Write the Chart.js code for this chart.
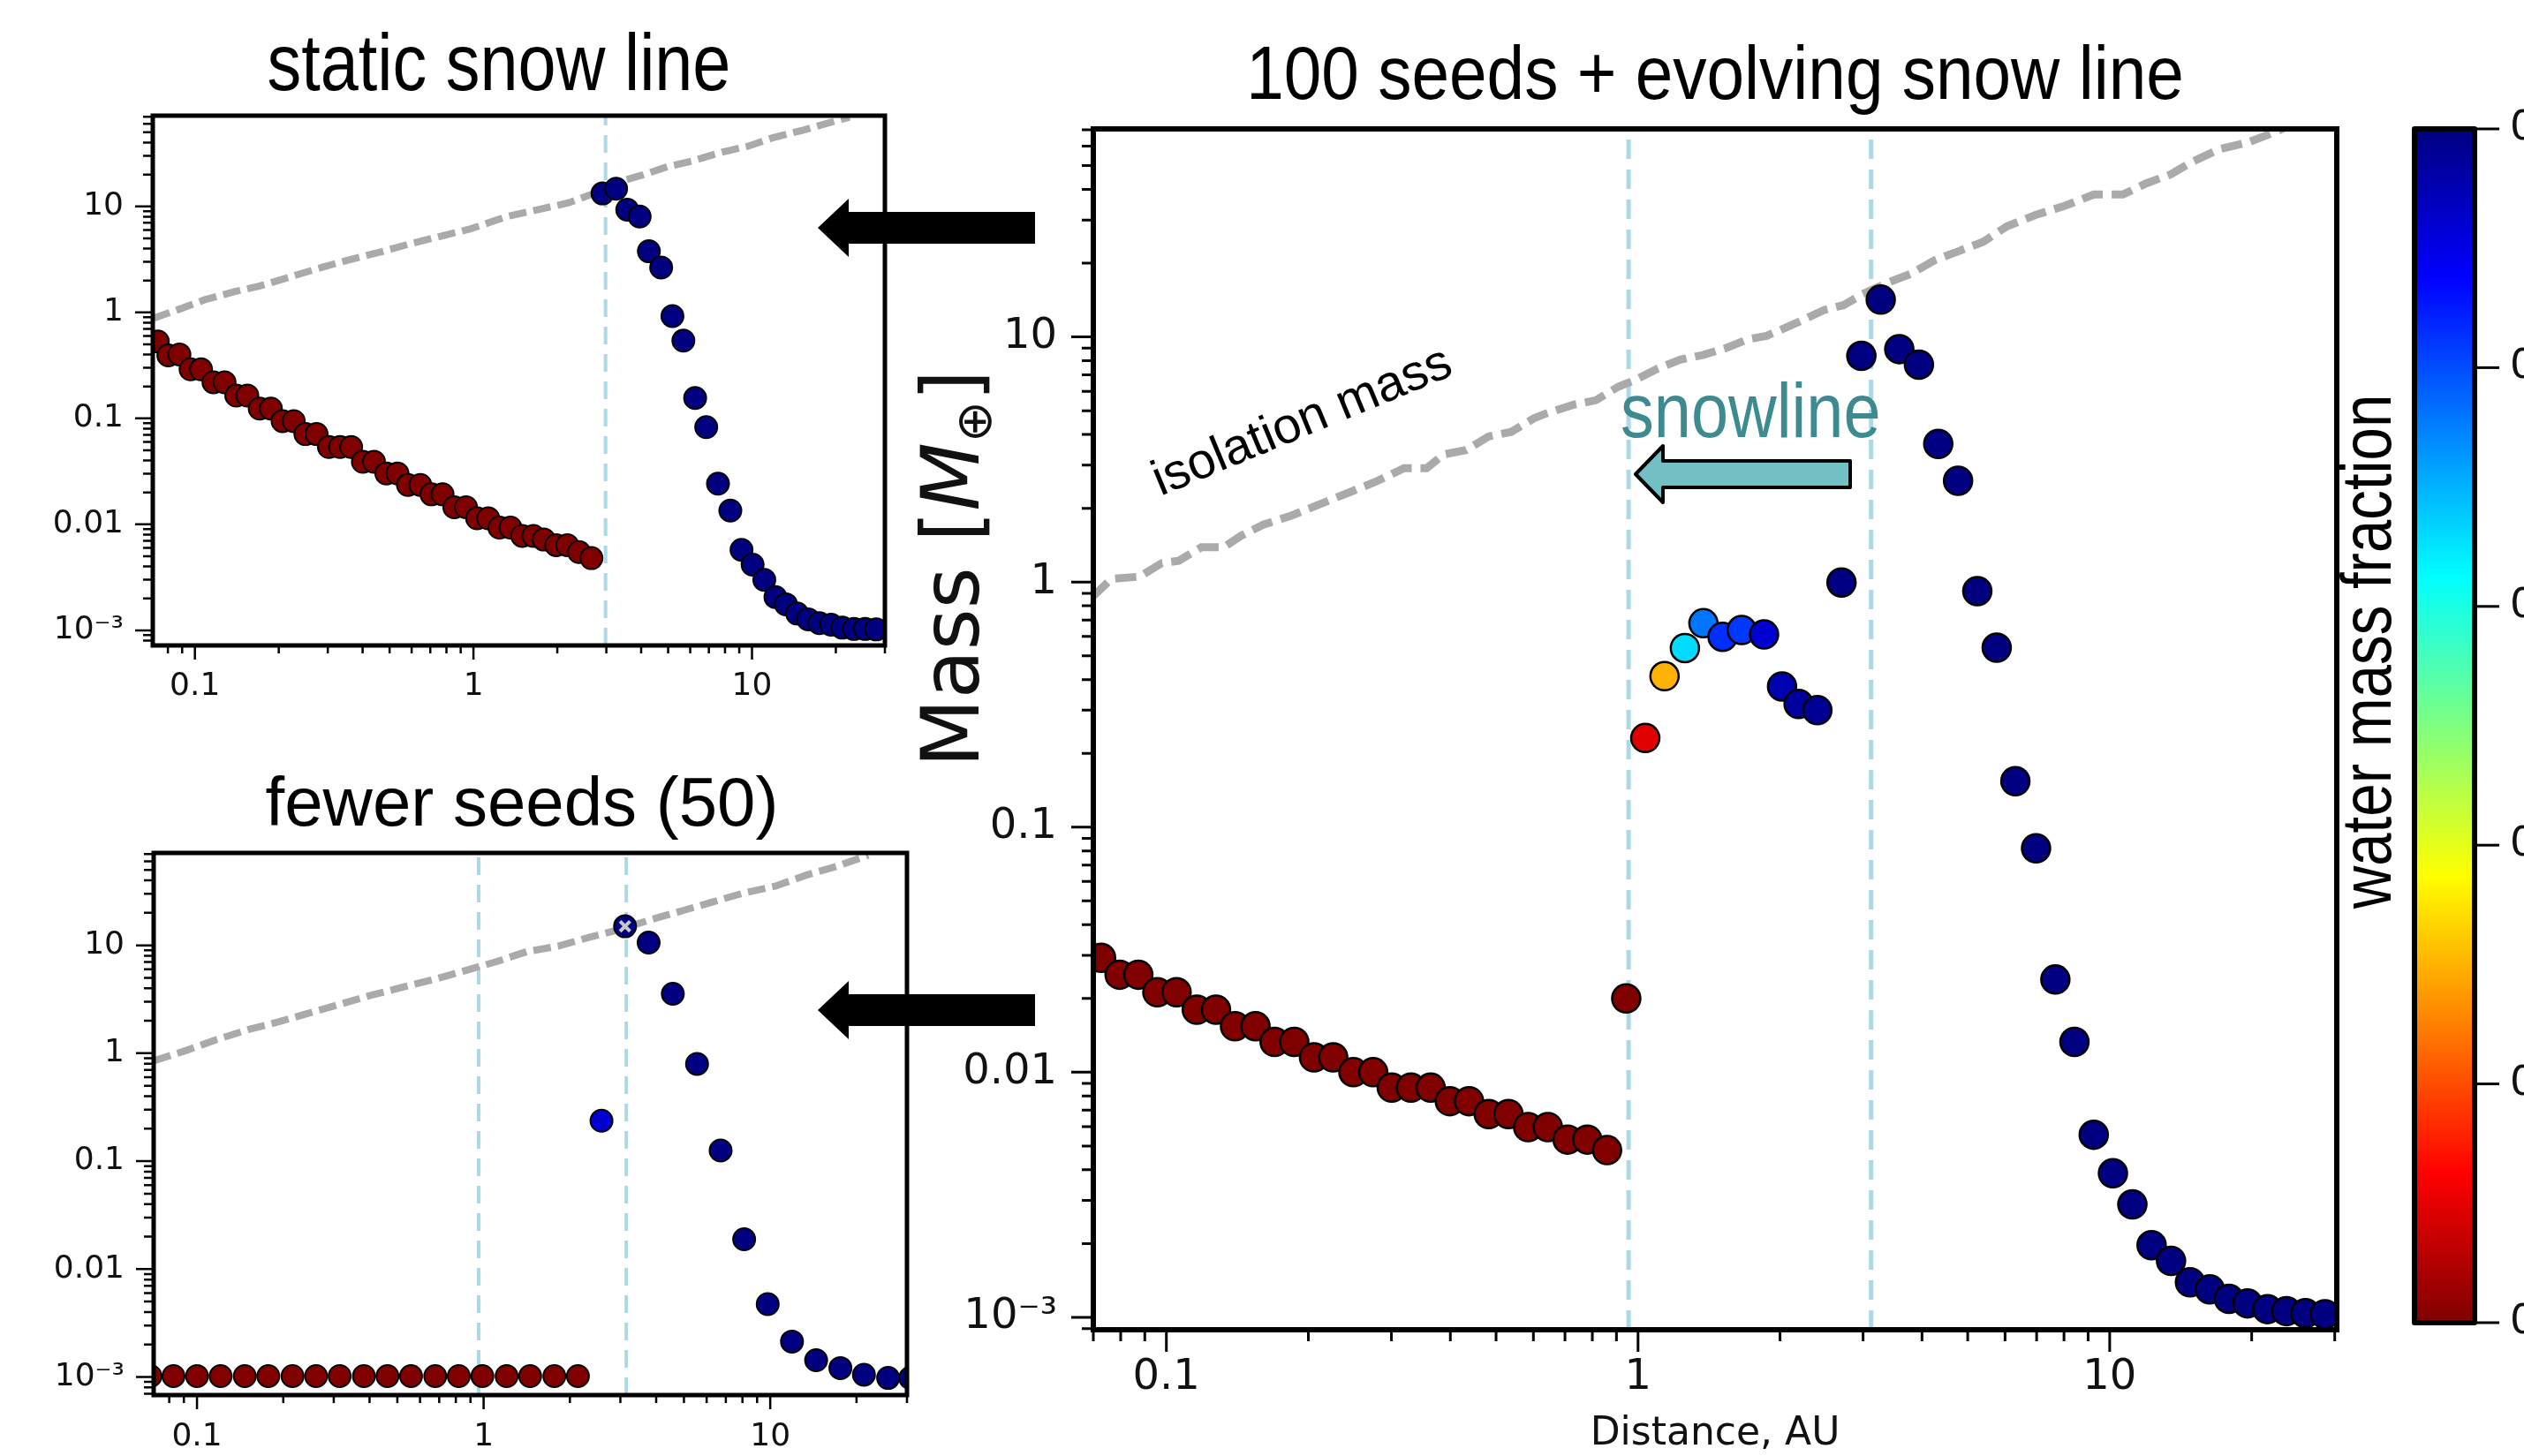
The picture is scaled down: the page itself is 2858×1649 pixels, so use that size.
<!DOCTYPE html>
<html lang="en">
<head>
<meta charset="UTF-8">
<title>Embryo masses vs distance</title>
<script src="https://cdn.jsdelivr.net/npm/chart.js"></script>
<style>
  body { margin: 0; background: #fff; }
  canvas { position: absolute; }
</style>
</head>
<body>
<canvas id="mainChart" width="2858" height="1649" style="left:0;top:0"></canvas>
<canvas id="staticChart" width="1060" height="840" style="left:0;top:0"></canvas>
<canvas id="fewerChart" width="1060" height="809" style="left:0;top:840px"></canvas>

<script>
// ---- data ----
// main panel: 100 seeds + evolving snow line
const mainDist = [0.0727, 0.0796, 0.0872, 0.0957, 0.1051, 0.1160, 0.1274, 0.1398, 0.1545, 0.1696,
  0.1867, 0.2056, 0.2258, 0.2492, 0.2745, 0.3005, 0.3300, 0.3634, 0.3990, 0.4381,
  0.4824, 0.5312, 0.5848, 0.6438, 0.7090, 0.7807, 0.8597, 0.944, 1.036, 1.138,
  1.257, 1.376, 1.511, 1.659, 1.85, 2.02, 2.19, 2.40, 2.70, 2.975,
  3.27, 3.58, 3.94, 4.33, 4.77, 5.24, 5.76, 6.31, 6.98, 7.67,
  8.42, 9.25, 10.16, 11.17, 12.27, 13.49, 14.8, 16.3, 17.9, 19.6,
  21.6, 23.7, 26.0, 28.6];
const mainMass = [0.0293, 0.0250, 0.0250, 0.0212, 0.0212, 0.0180, 0.0180, 0.0154, 0.0154, 0.0133,
  0.0133, 0.0115, 0.0115, 0.0100, 0.0100, 0.00865, 0.00865, 0.00865, 0.00762, 0.00762,
  0.00675, 0.00675, 0.00597, 0.00597, 0.00531, 0.00531, 0.00481, 0.0200, 0.231, 0.413,
  0.538, 0.679, 0.598, 0.637, 0.611, 0.375, 0.318, 0.300, 0.996, 8.37,
  14.2, 8.92, 7.71, 3.66, 2.59, 0.918, 0.540, 0.154, 0.082, 0.0239,
  0.0133, 0.00556, 0.00387, 0.00289, 0.00197, 0.00170, 0.00139, 0.00130, 0.00119, 0.00114,
  0.00108, 0.00106, 0.00104, 0.00103];
const mainWater = [0, 0, 0, 0, 0, 0, 0, 0, 0, 0,
  0, 0, 0, 0, 0, 0, 0, 0, 0, 0,
  0, 0, 0, 0, 0, 0, 0, 0, 0.047, 0.15,
  0.33, 0.38, 0.415, 0.41, 0.46, 0.475, 0.485, 0.49, 0.5, 0.5,
  0.5, 0.5, 0.5, 0.5, 0.5, 0.5, 0.5, 0.5, 0.5, 0.5,
  0.5, 0.5, 0.5, 0.5, 0.5, 0.5, 0.5, 0.5, 0.5, 0.5,
  0.5, 0.5, 0.5, 0.5];
const mainIsoDist = [0.0697, 0.0764, 0.0877, 0.0978, 0.1062, 0.1186, 0.1323, 0.1438, 0.1605, 0.1841,
  0.200, 0.2233, 0.2492, 0.2781, 0.3192, 0.3564, 0.3871, 0.4321, 0.4824, 0.5384,
  0.6012, 0.6353, 0.7293, 0.8136, 0.9082, 0.9862, 1.101, 1.229, 1.372, 1.532,
  1.71, 1.873, 2.157, 2.483, 2.727, 2.996, 3.37, 3.79, 4.26, 4.79,
  5.39, 6.06, 6.98, 8.04, 9.25, 10.66, 11.98, 13.48, 14.8, 17.05,
  19.6, 22.6, 24.5];
const mainIsoMass = [0.869, 1.03, 1.052, 1.195, 1.221, 1.387, 1.387, 1.543, 1.715, 1.867,
  1.99, 2.167, 2.359, 2.568, 2.917, 2.917, 3.314, 3.458, 3.928, 4.099,
  4.654, 4.857, 5.287, 5.517, 6.266, 6.678, 7.43, 8.08, 8.44, 8.99,
  9.79, 10.1, 11.36, 12.9, 13.47, 14.97, 16.6, 18.1, 20.6, 22.4,
  24.4, 28.3, 31.5, 34.3, 38.1, 38.1, 42.4, 46.1, 51.3, 58.3,
  62.1, 69.0, 74.0];
const mainSnow = [0.955, 3.12];

// top-left panel: static snow line
const staticDist = [0.0736, 0.0803, 0.0880, 0.0965, 0.1052, 0.1166, 0.1278, 0.1408, 0.1543, 0.1709,
  0.1874, 0.2065, 0.2264, 0.2493, 0.2734, 0.3029, 0.3320, 0.3639, 0.4010, 0.4395,
  0.4868, 0.5338, 0.5821, 0.6447, 0.7066, 0.7746, 0.8538, 0.9406, 1.031, 1.130,
  1.239, 1.358, 1.497, 1.641, 1.789, 1.982, 2.173, 2.394, 2.652, 2.906,
  3.252, 3.566, 3.95, 4.264, 4.72, 5.18, 5.67, 6.25, 6.85, 7.55,
  8.36, 9.17, 10.05, 11.07, 12.14, 13.24, 14.52, 15.92, 17.46, 19.23,
  21.09, 23.23, 25.47, 27.92];
const staticMass = [0.531, 0.393, 0.401, 0.290, 0.290, 0.219, 0.219, 0.164, 0.164, 0.1236,
  0.1236, 0.0942, 0.0942, 0.0711, 0.0711, 0.0536, 0.0536, 0.0536, 0.0389, 0.0389,
  0.0302, 0.0302, 0.0235, 0.0235, 0.0192, 0.0192, 0.0145, 0.0145, 0.0114, 0.0114,
  0.00932, 0.00932, 0.00778, 0.00778, 0.00718, 0.00636, 0.00636, 0.00547, 0.00480, 13.25,
  14.66, 9.32, 8.02, 3.77, 2.65, 0.923, 0.542, 0.1556, 0.0826, 0.0242,
  0.0135, 0.00575, 0.00417, 0.00299, 0.00206, 0.00176, 0.00144, 0.00127, 0.00117, 0.00113,
  0.00106, 0.00103, 0.00103, 0.00102];
const staticWater = [0, 0, 0, 0, 0, 0, 0, 0, 0, 0,
  0, 0, 0, 0, 0, 0, 0, 0, 0, 0,
  0, 0, 0, 0, 0, 0, 0, 0, 0, 0,
  0, 0, 0, 0, 0, 0, 0, 0, 0, 0.5,
  0.5, 0.5, 0.5, 0.5, 0.5, 0.5, 0.5, 0.5, 0.5, 0.5,
  0.5, 0.5, 0.5, 0.5, 0.5, 0.5, 0.5, 0.5, 0.5, 0.5,
  0.5, 0.5, 0.5, 0.5];
const staticIsoDist = [0.0707, 0.088, 0.108, 0.1393, 0.171, 0.2207, 0.2848, 0.3493, 0.4746, 0.582,
  0.791, 0.97, 1.317, 1.616, 2.195, 2.834, 3.303, 4.05, 4.97, 6.09,
  7.87, 9.65, 11.84, 15.28, 22.4];
const staticIsoMass = [0.877, 1.073, 1.312, 1.572, 1.774, 2.169, 2.652, 3.084, 3.77, 4.385,
  5.36, 6.11, 8.01, 9.04, 10.8, 13.9, 17.0, 19.8, 23.7, 26.8,
  32.7, 36.9, 44.3, 52.5, 69.7];
const staticSnow = [2.98];

// bottom-left panel: fewer seeds (50)
const fewerDist = [0.0688, 0.0828, 0.1, 0.1209, 0.1468, 0.1773, 0.2154, 0.2603, 0.3146, 0.3823,
  0.4619, 0.5581, 0.6781, 0.8192, 0.990, 1.203, 1.453, 1.765, 2.133, 2.578,
  3.115, 3.765, 4.573, 5.555, 6.713, 8.11, 9.80, 11.91, 14.46, 17.57,
  21.23, 25.78, 30.8];
const fewerMass = [0.00102, 0.00102, 0.00102, 0.00102, 0.00102, 0.00102, 0.00102, 0.00102, 0.00102, 0.00102,
  0.00102, 0.00102, 0.00102, 0.00102, 0.00102, 0.00102, 0.00102, 0.00102, 0.00102, 0.2368,
  15.0, 10.6, 3.56, 0.796, 0.1256, 0.01888, 0.00473, 0.00213, 0.00143, 0.00121,
  0.00105, 0.00098, 0.00098];
const fewerWater = [0, 0, 0, 0, 0, 0, 0, 0, 0, 0,
  0, 0, 0, 0, 0, 0, 0, 0, 0, 0.46,
  0.5, 0.5, 0.5, 0.5, 0.5, 0.5, 0.5, 0.5, 0.5, 0.5,
  0.5, 0.5, 0.5];
const fewerMarkDist = [3.115];
const fewerMarkMass = [15.0];
const fewerIsoDist = [0.0706, 0.0914, 0.1173, 0.1505, 0.1931, 0.2476, 0.3178, 0.4077, 0.5232, 0.6712,
  0.8612, 1.105, 1.418, 1.818, 2.333, 2.993, 3.84, 4.93, 6.32, 8.11,
  10.4, 13.35, 17.1, 21.98];
const fewerIsoMass = [0.851, 1.058, 1.341, 1.652, 1.96, 2.369, 2.862, 3.461, 4.105, 4.822,
  5.827, 7.04, 8.76, 9.81, 11.86, 14.06, 17.33, 20.9, 25.3, 30.6,
  35.3, 44.7, 54.0, 68.4];
const fewerSnow = [0.961, 3.146];

// axis ticks
const xTickVals = [0.1, 1, 10];
const xTickLabels = ['0.1', '1', '10'];
const yTickVals = [0.001, 0.01, 0.1, 1, 10];
const yTickLabels = ['10⁻³', '0.01', '0.1', '1', '10'];
const cbTickVals = [0, 0.1, 0.2, 0.3, 0.4, 0.5];
const cbTickLabels = ['0.0', '0.1', '0.2', '0.3', '0.4', '0.5'];
const WATER_MAX = 0.5;

// axis ranges
const MAIN_X = [0.0700, 30.3], MAIN_Y = [8.9e-4, 70.6];
const STATIC_X = [0.0706, 30.0], STATIC_Y = [7.2e-4, 71.8];
const FEWER_X = [0.0706, 30.0], FEWER_Y = [6.8e-4, 71.8];

// ---- helpers ----
const DEJAVU = "'DejaVu Sans', sans-serif";
const ARIAL = "'Liberation Sans', Arial, sans-serif";

// matplotlib jet colormap
const jet = t => {
  const c = v => Math.round(255 * Math.min(1, Math.max(0, v)));
  return `rgb(${c(1.5 - Math.abs(4 * t - 3))},${c(1.5 - Math.abs(4 * t - 2))},${c(1.5 - Math.abs(4 * t - 1))})`;
};
const waterColor = w => jet(1 - w / WATER_MAX);
const pts = (xs, ys) => xs.map((x, i) => ({x, y: ys[i]}));
const vline = (x, yr) => [{x, y: yr[0]}, {x, y: yr[1]}];

// text squeezed horizontally (the slide used a narrow face)
function squeezed(ctx, text, x, y, sx, align) {
  ctx.save();
  ctx.translate(x, y);
  ctx.scale(sx, 1);
  ctx.textAlign = align;
  ctx.fillText(text, 0, 0);
  ctx.restore();
}

function logAxis(range, vals, labels, size, pad, fixed, horizontal) {
  return {
    type: 'logarithmic', min: range[0], max: range[1],
    grid: {display: false, drawTicks: false},
    border: {display: false},
    afterBuildTicks: s => { s.ticks = vals.map(v => ({value: v})); },
    afterFit: s => {
      if (horizontal) s.height = fixed; else s.width = fixed;
      s.paddingLeft = s.paddingRight = s.paddingTop = s.paddingBottom = 0;
    },
    ticks: {
      autoSkip: false, maxRotation: 0, minRotation: 0, padding: pad, color: '#111',
      font: {family: DEJAVU, size}, callback: (v, i) => labels[i]
    }
  };
}

// frame + outward major/minor ticks (matplotlib look)
const axesFrame = {
  id: 'axesFrame',
  afterDatasetsDraw(chart, args, o) {
    const {ctx, chartArea: a, scales: {x, y}} = chart;
    ctx.save();
    ctx.strokeStyle = '#000';
    ctx.lineWidth = o.tickWidth;
    ctx.beginPath();
    [[x, o.xMajor, o.xMinor], [y, o.yMajor, o.yMinor]].forEach(([s, big, small]) => {
      for (let e = Math.floor(Math.log10(s.min)); e <= Math.ceil(Math.log10(s.max)); e++) {
        for (let m = 1; m < 10; m++) {
          const v = m * Math.pow(10, e);
          if (v < s.min || v > s.max) continue;
          const len = m === 1 ? big : small;
          const p = s.getPixelForValue(v);
          if (s === x) { ctx.moveTo(p, a.bottom); ctx.lineTo(p, a.bottom + len); }
          else { ctx.moveTo(a.left - len, p); ctx.lineTo(a.left, p); }
        }
      }
    });
    ctx.stroke();
    ctx.lineWidth = o.frame;
    ctx.strokeRect(a.left, a.top, a.right - a.left, a.bottom - a.top);
    ctx.restore();
  }
};

const panelTitle = {
  id: 'panelTitle',
  afterDraw(chart, args, o) {
    const ctx = chart.ctx;
    ctx.save();
    ctx.font = o.font;
    ctx.fillStyle = '#000';
    squeezed(ctx, o.text, o.x, o.y, o.sx, 'center');
    ctx.restore();
  }
};

function blockArrow(ctx, tip, y, back, tail, head, shaft, fill, lw) {
  ctx.beginPath();
  ctx.moveTo(tip, y);
  ctx.lineTo(back, y - head);
  ctx.lineTo(back, y - shaft);
  ctx.lineTo(tail, y - shaft);
  ctx.lineTo(tail, y + shaft);
  ctx.lineTo(back, y + shaft);
  ctx.lineTo(back, y + head);
  ctx.closePath();
  ctx.fillStyle = fill;
  ctx.fill();
  if (lw) {
    ctx.lineWidth = lw;
    ctx.lineJoin = 'round';
    ctx.strokeStyle = '#000';
    ctx.stroke();
  }
}

// everything around the main panel: titles, labels, colorbar, arrows
const mainDecor = {
  id: 'mainDecor',
  afterDraw(chart) {
    const ctx = chart.ctx;
    ctx.save();
    ctx.fillStyle = '#000';
    ctx.textBaseline = 'alphabetic';

    ctx.font = `86px ${ARIAL}`;
    squeezed(ctx, '100 seeds + evolving snow line', 1942, 112, 0.89, 'center');

    ctx.font = `44px ${DEJAVU}`;
    ctx.fillStyle = '#111';
    ctx.textAlign = 'center';
    ctx.fillText('Distance, AU', 1942, 1636);

    // y label: Mass [M_⊕]
    ctx.save();
    ctx.translate(1108, 644);
    ctx.rotate(-Math.PI / 2);
    const parts = [
      {t: 'Mass [', f: `90px ${DEJAVU}`, dy: 0},
      {t: 'M', f: `italic 90px ${DEJAVU}`, dy: 0},
      {t: '⊕', f: `56px ${DEJAVU}`, dy: 14},
      {t: ']', f: `90px ${DEJAVU}`, dy: 0}
    ];
    let total = 0;
    parts.forEach(p => { ctx.font = p.f; p.w = ctx.measureText(p.t).width; total += p.w; });
    let cx = -total / 2;
    ctx.textAlign = 'left';
    parts.forEach(p => { ctx.font = p.f; ctx.fillText(p.t, cx, p.dy); cx += p.w; });
    ctx.restore();

    // annotations inside main panel
    ctx.save();
    ctx.translate(1314, 562);
    ctx.rotate(-22.5 * Math.PI / 180);
    ctx.font = `57px ${ARIAL}`;
    ctx.textAlign = 'left';
    ctx.fillStyle = '#000';
    ctx.fillText('isolation mass', 0, 0);
    ctx.restore();

    ctx.font = `88px ${ARIAL}`;
    ctx.fillStyle = '#3d8a90';
    squeezed(ctx, 'snowline', 1835, 495, 0.86, 'left');
    blockArrow(ctx, 1852, 537, 1883, 2095, 32, 15, '#72bfc4', 4);

    // arrows pointing from the main panel to the side panels
    blockArrow(ctx, 926, 258, 961, 1172, 33, 18, '#000', 0);
    blockArrow(ctx, 926, 1144, 961, 1172, 33, 18, '#000', 0);

    // colorbar
    const cb = {l: 2734, r: 2802, t: 146, b: 1498};
    const g = ctx.createLinearGradient(0, cb.t, 0, cb.b);
    for (let i = 0; i <= 40; i++) g.addColorStop(i / 40, jet(i / 40));
    ctx.fillStyle = g;
    ctx.fillRect(cb.l, cb.t, cb.r - cb.l, cb.b - cb.t);
    ctx.lineWidth = 6;
    ctx.strokeStyle = '#000';
    ctx.strokeRect(cb.l, cb.t, cb.r - cb.l, cb.b - cb.t);
    ctx.lineWidth = 3;
    ctx.font = `46px ${DEJAVU}`;
    ctx.fillStyle = '#111';
    ctx.textAlign = 'left';
    ctx.textBaseline = 'middle';
    cbTickVals.forEach((v, i) => {
      const yy = cb.b - (v / WATER_MAX) * (cb.b - cb.t);
      ctx.beginPath();
      ctx.moveTo(cb.r, yy);
      ctx.lineTo(cb.r + 28, yy);
      ctx.stroke();
      ctx.fillText(cbTickLabels[i], cb.r + 40, yy);
    });

    ctx.save();
    ctx.translate(2707, 738);
    ctx.rotate(-Math.PI / 2);
    ctx.font = `80px ${ARIAL}`;
    ctx.textBaseline = 'alphabetic';
    ctx.fillStyle = '#000';
    squeezed(ctx, 'water mass fraction', 0, 0, 0.84, 'center');
    ctx.restore();

    ctx.restore();
  }
};

function panel(id, c) {
  const datasets = [
    {
      data: pts(c.dist, c.mass), order: 1, clip: 0,
      pointRadius: c.r, pointHoverRadius: c.r,
      pointBackgroundColor: c.water.map(waterColor),
      pointBorderColor: '#000', pointBorderWidth: c.edge
    },
    {
      data: pts(c.isoDist, c.isoMass), order: 3, showLine: true, pointRadius: 0,
      borderColor: '#aaaaaa', borderWidth: c.isoW, borderDash: c.isoDash
    }
  ];
  c.snow.forEach(s => datasets.push({
    data: vline(s, c.yr), order: 4, showLine: true, pointRadius: 0,
    borderColor: '#add8e6', borderWidth: c.snowW, borderDash: c.snowDash
  }));
  if (c.mark) datasets.push({
    data: c.mark, order: 0, clip: 0, pointStyle: 'crossRot',
    pointRadius: 8, pointBorderColor: '#c8c8c8', pointBorderWidth: 4
  });

  return new Chart(document.getElementById(id), {
    type: 'scatter',
    data: {datasets},
    plugins: c.plugins,
    options: {
      responsive: false, animation: false, devicePixelRatio: 1, events: [],
      layout: {padding: c.pad},
      plugins: {
        legend: {display: false},
        tooltip: {enabled: false},
        axesFrame: c.frame,
        panelTitle: c.title
      },
      scales: {
        x: logAxis(c.xr, xTickVals, xTickLabels, c.font, c.xPad, c.xH, true),
        y: logAxis(c.yr, yTickVals, yTickLabels, c.font, c.yPad, c.yW, false)
      }
    }
  });
}

panel('mainChart', {
  dist: mainDist, mass: mainMass, water: mainWater,
  isoDist: mainIsoDist, isoMass: mainIsoMass, snow: mainSnow,
  xr: MAIN_X, yr: MAIN_Y, r: 16, edge: 2.5,
  isoW: 9, isoDash: [24, 10], snowW: 5, snowDash: [22, 12],
  font: 48, xPad: 26, yPad: 41, xH: 100, yW: 160,
  pad: {left: 1078, right: 212, top: 146, bottom: 43},
  frame: {frame: 6, tickWidth: 3, xMajor: 25, xMinor: 13, yMajor: 25, yMinor: 13},
  plugins: [axesFrame, mainDecor]
});

panel('staticChart', {
  dist: staticDist, mass: staticMass, water: staticWater,
  isoDist: staticIsoDist, isoMass: staticIsoMass, snow: staticSnow,
  xr: STATIC_X, yr: STATIC_Y, r: 12.5, edge: 2,
  isoW: 8, isoDash: [20, 8], snowW: 4, snowDash: [20, 11],
  font: 36, xPad: 25, yPad: 33, xH: 80, yW: 150,
  pad: {left: 23, right: 58, top: 131, bottom: 29},
  frame: {frame: 5, tickWidth: 2.5, xMajor: 16, xMinor: 9, yMajor: 20, yMinor: 11},
  title: {text: 'static snow line', font: `90px ${ARIAL}`, x: 565, y: 102, sx: 0.86},
  plugins: [axesFrame, panelTitle]
});

panel('fewerChart', {
  dist: fewerDist, mass: fewerMass, water: fewerWater,
  isoDist: fewerIsoDist, isoMass: fewerIsoMass, snow: fewerSnow,
  mark: pts(fewerMarkDist, fewerMarkMass),
  xr: FEWER_X, yr: FEWER_Y, r: 12.5, edge: 2,
  isoW: 8, isoDash: [20, 8], snowW: 4, snowDash: [20, 11],
  font: 36, xPad: 26, yPad: 33, xH: 60, yW: 150,
  pad: {left: 24, right: 33, top: 126, bottom: 9},
  frame: {frame: 5, tickWidth: 2.5, xMajor: 16, xMinor: 9, yMajor: 20, yMinor: 11},
  title: {text: 'fewer seeds (50)', font: `78px ${ARIAL}`, x: 591, y: 95, sx: 1},
  plugins: [axesFrame, panelTitle]
});
</script>
</body>
</html>
